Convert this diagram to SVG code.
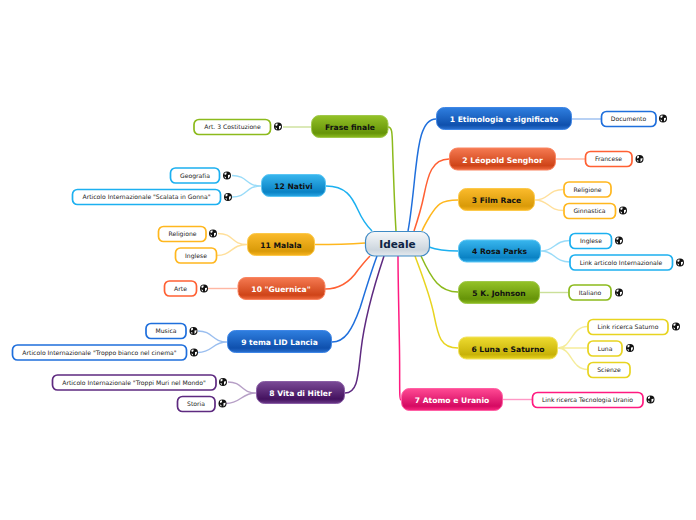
<svg xmlns="http://www.w3.org/2000/svg" xmlns:xlink="http://www.w3.org/1999/xlink" width="696" height="520" viewBox="0 0 696 520">
<style>
text{font-family:"DejaVu Sans",Verdana,sans-serif;text-anchor:middle}
.m{font-size:7.6px;font-weight:bold}
.w{fill:#fff}.k{fill:#111}
.l{font-size:6.1px;fill:#222}
.leaf{fill:#fff;stroke-width:1.7}
.c{fill:none;stroke-width:1.5}
.s{fill:none;stroke-width:1.4;opacity:.45}
.blue{stroke:#1f6fdc}.red{stroke:#ff6033}.amb{stroke:#ffb71e}.sky{stroke:#1cb0f0}.grn{stroke:#8cba1c}.yel{stroke:#e8d420}.pnk{stroke:#ff1a80}.pur{stroke:#5e2a80}
</style>
<defs>
<linearGradient id="gblue" x1="0" y1="0" x2="0" y2="1"><stop offset="0" stop-color="#2f7fe0"/><stop offset=".8" stop-color="#0f50ad"/><stop offset="1" stop-color="#2a70d0"/></linearGradient>
<linearGradient id="gred" x1="0" y1="0" x2="0" y2="1"><stop offset="0" stop-color="#f57a52"/><stop offset=".8" stop-color="#cf4418"/><stop offset="1" stop-color="#ef6a40"/></linearGradient>
<linearGradient id="gamb" x1="0" y1="0" x2="0" y2="1"><stop offset="0" stop-color="#fbbb2c"/><stop offset=".8" stop-color="#d99a08"/><stop offset="1" stop-color="#f8b420"/></linearGradient>
<linearGradient id="gsky" x1="0" y1="0" x2="0" y2="1"><stop offset="0" stop-color="#38b6ee"/><stop offset=".8" stop-color="#0a82c4"/><stop offset="1" stop-color="#2aa8e6"/></linearGradient>
<linearGradient id="ggrn" x1="0" y1="0" x2="0" y2="1"><stop offset="0" stop-color="#94c228"/><stop offset=".8" stop-color="#669408"/><stop offset="1" stop-color="#8cbc1e"/></linearGradient>
<linearGradient id="gyel" x1="0" y1="0" x2="0" y2="1"><stop offset="0" stop-color="#eedb30"/><stop offset=".8" stop-color="#c8b208"/><stop offset="1" stop-color="#e8d420"/></linearGradient>
<linearGradient id="gpnk" x1="0" y1="0" x2="0" y2="1"><stop offset="0" stop-color="#ff4a94"/><stop offset=".8" stop-color="#d50a62"/><stop offset="1" stop-color="#f8267e"/></linearGradient>
<linearGradient id="gpur" x1="0" y1="0" x2="0" y2="1"><stop offset="0" stop-color="#7a4a96"/><stop offset=".8" stop-color="#44125f"/><stop offset="1" stop-color="#6a3a88"/></linearGradient>
<linearGradient id="gcen" x1="0" y1="0" x2="0" y2="1"><stop offset="0" stop-color="#f6f8fa"/><stop offset=".75" stop-color="#cdd6de"/><stop offset="1" stop-color="#e6ebef"/></linearGradient>
<g id="globe"><circle r="4" fill="#111"/><path d="M-2.600-2.400-.6-3.200-.4-1.400-2.200-.2ZM1-.6 3.200-.8 2.600 1.600 1 3ZM-2.800 1-1 1.600-1.400 3.200Z" fill="#fff"/></g>
</defs>

<g id="connectors">
<path class="c grn" d="M388 127C393 127 392 135 393 160C394 190 395 215 396 231"/>
<path class="c blue" d="M436 119C420 119 418 150 415 175C413 195 411 215 408 231"/>
<path class="c red" d="M449 159C432 159 428 175 424 195C421 210 417 222 414 231"/>
<path class="c amb" d="M458 200C440 200 437 205 430 216C427 221 424 226 422 231"/>
<path class="c sky" d="M458 251C445 251 437 250 429 247"/>
<path class="c grn" d="M458 292C440 292 432 280 421 256"/>
<path class="c yel" d="M458 348C440 348 438 335 434 315C430 295 422 275 415 256"/>
<path class="c pnk" d="M401 400C399 400 400 385 399.500 350C399 315 398 280 398 256"/>
<path class="c pur" d="M345 393C358 393 358 375 361 350C365 315 376 280 384 256"/>
<path class="c blue" d="M332 342C345 342 352 330 360 308C365 292 371 272 377 256"/>
<path class="c red" d="M325 289C340 289 350 282 358 270C362 265 366 260 370 256"/>
<path class="c amb" d="M315 244.500C335 244.500 350 244 365 243"/>
<path class="c sky" d="M326 186C346 186 352 197 358 210C362 219 367 226 372 231"/>
<path class="s blue" d="M572 119H601"/>
<path class="s red" d="M556 159H585"/>
<path class="s amb" d="M535 200C549 200 548 189.500 563.500 189.500M535 200C549 200 548 210.500 563.500 210.500"/>
<path class="s sky" d="M541 251C555 251 554 240.500 570 240.500M541 251C555 251 554 262 570 262"/>
<path class="s grn" d="M540 292.500H568.500"/>
<path class="s yel" d="M558 348C572 348 571 326.500 587.500 326.500M558 348H587.500M558 348C572 348 571 369.500 587.500 369.500"/>
<path class="s pnk" d="M503 399.500H532"/>
<path class="s grn" d="M283 127H311"/>
<path class="s sky" d="M232 175.500C248 175.500 245 186 261 186M232 197C248 197 245 186 261 186"/>
<path class="s amb" d="M218 233.500C234 233.500 231 244.500 247 244.500M216.500 255.500C232 255.500 231 244.500 247 244.500"/>
<path class="s red" d="M208 288.500H237"/>
<path class="s blue" d="M198 331C213 331 212 342 227 342M198 352.500C213 352.500 212 342 227 342"/>
<path class="s pur" d="M228 382C243 382 241 393 256 393M226 403.500C241 403.500 241 393 256 393"/>
</g>

<g id="center"><rect x="365.500" y="231.500" width="64" height="24.500" rx="9" fill="url(#gcen)" stroke="#3f8ac4" stroke-width="1.200"/><text x="397.500" y="247.500" font-size="10.500" font-weight="bold" fill="#0f2545">Ideale</text></g>

<g id="n1"><rect x="436.500" y="107.500" width="135" height="22" rx="8" fill="url(#gblue)" stroke="#3f86e6"/><text class="m w" x="504" y="122">1 Etimologia e significato</text></g>
<g id="n2"><rect x="449.500" y="148" width="106" height="22" rx="8" fill="url(#gred)" stroke="#fa8460"/><text class="m w" x="502.500" y="162.500">2 Léopold Senghor</text></g>
<g id="n3"><rect x="458.500" y="188.500" width="76" height="22" rx="8" fill="url(#gamb)" stroke="#fcc94a"/><text class="m k" x="496.500" y="203">3 Film Race</text></g>
<g id="n4"><rect x="458.500" y="240" width="82" height="22" rx="8" fill="url(#gsky)" stroke="#5cc6f4"/><text class="m k" x="499.500" y="254">4 Rosa Parks</text></g>
<g id="n5"><rect x="458.500" y="281.500" width="81" height="22" rx="8" fill="url(#ggrn)" stroke="#a0c84a"/><text class="m k" x="499" y="295.500">5 K. Johnson</text></g>
<g id="n6"><rect x="458.500" y="337" width="99" height="22" rx="8" fill="url(#gyel)" stroke="#f2e260"/><text class="m k" x="508" y="351.500">6 Luna e Saturno</text></g>
<g id="n7"><rect x="401.500" y="388.500" width="101" height="22" rx="8" fill="url(#gpnk)" stroke="#ff60a4"/><text class="m w" x="452" y="403">7 Atomo e Uranio</text></g>
<g id="n0"><rect x="311.500" y="115.500" width="76.500" height="22" rx="8" fill="url(#ggrn)" stroke="#a0c84a"/><text class="m k" x="350" y="130">Frase finale</text></g>
<g id="n12"><rect x="261.500" y="174.500" width="64" height="22" rx="8" fill="url(#gsky)" stroke="#5cc6f4"/><text class="m k" x="293.500" y="189">12 Nativi</text></g>
<g id="n11"><rect x="247.500" y="233.500" width="67" height="22" rx="8" fill="url(#gamb)" stroke="#fcc94a"/><text class="m k" x="281" y="247.500">11 Malala</text></g>
<g id="n10"><rect x="238" y="277.500" width="87" height="22" rx="8" fill="url(#gred)" stroke="#fa8460"/><text class="m w" x="281" y="292">10 "Guernica"</text></g>
<g id="n9"><rect x="227.500" y="330.500" width="104" height="22" rx="8" fill="url(#gblue)" stroke="#3f86e6"/><text class="m w" x="279.500" y="344.500">9 tema LID Lancia</text></g>
<g id="n8"><rect x="256.500" y="381.500" width="88" height="22" rx="8" fill="url(#gpur)" stroke="#8a5ea6"/><text class="m w" x="300.500" y="396">8 Vita di Hitler</text></g>

<g id="l1"><rect class="leaf blue" x="601.500" y="111.500" width="54.500" height="15" rx="5"/><text class="l" x="628.500" y="121">Documento</text><use href="#globe" x="663" y="118.500"/></g>
<g id="l2"><rect class="leaf red" x="585.500" y="151.500" width="46.500" height="15" rx="5"/><text class="l" x="608.500" y="161">Francese</text><use href="#globe" x="639.500" y="159"/></g>
<g id="l3a"><rect class="leaf amb" x="564" y="182" width="47" height="15" rx="5"/><text class="l" x="587.500" y="192">Religione</text></g>
<g id="l3b"><rect class="leaf amb" x="564" y="203.500" width="51.500" height="15" rx="5"/><text class="l" x="589.500" y="213">Ginnastica</text><use href="#globe" x="623" y="210.500"/></g>
<g id="l4a"><rect class="leaf sky" x="570" y="233.500" width="41.500" height="15" rx="5"/><text class="l" x="591" y="243">Inglese</text><use href="#globe" x="619" y="240.500"/></g>
<g id="l4b"><rect class="leaf sky" x="570" y="255" width="102.500" height="15" rx="5"/><text class="l" x="621" y="264.500">Link articolo Internazionale</text><use href="#globe" x="680" y="262.500"/></g>
<g id="l5"><rect class="leaf grn" x="569" y="285" width="42" height="15" rx="5"/><text class="l" x="590" y="295">Italiano</text><use href="#globe" x="619" y="292.500"/></g>
<g id="l6a"><rect class="leaf yel" x="588" y="319.500" width="80" height="15" rx="5"/><text class="l" x="628" y="329">Link ricerca Saturno</text><use href="#globe" x="676" y="326.500"/></g>
<g id="l6b"><rect class="leaf yel" x="588" y="341" width="34" height="15" rx="5"/><text class="l" x="605" y="350.500">Luna</text><use href="#globe" x="630" y="348"/></g>
<g id="l6c"><rect class="leaf yel" x="588" y="362.500" width="42" height="15" rx="5"/><text class="l" x="609" y="372">Scienze</text></g>
<g id="l7"><rect class="leaf pnk" x="532.500" y="392.500" width="110.500" height="15" rx="5"/><text class="l" x="587.500" y="402">Link ricerca Tecnologia Uranio</text><use href="#globe" x="650.500" y="399.500"/></g>
<g id="l0"><rect class="leaf grn" x="194" y="119.500" width="76.500" height="15" rx="5"/><text class="l" x="232.500" y="129">Art. 3 Costituzione</text><use href="#globe" x="278" y="126.500"/></g>
<g id="l12a"><rect class="leaf sky" x="170.500" y="168" width="49" height="15" rx="5"/><text class="l" x="195" y="177.500">Geografia</text><use href="#globe" x="227" y="175.500"/></g>
<g id="l12b"><rect class="leaf sky" x="72.500" y="189.500" width="148" height="15" rx="5"/><text class="l" x="146.500" y="199">Articolo Internazionale "Scalata in Gonna"</text><use href="#globe" x="228" y="197"/></g>
<g id="l11a"><rect class="leaf amb" x="158.500" y="226.500" width="47.500" height="15" rx="5"/><text class="l" x="182.500" y="236">Religione</text><use href="#globe" x="213" y="233.500"/></g>
<g id="l11b"><rect class="leaf amb" x="175.500" y="248" width="41" height="15" rx="5"/><text class="l" x="196" y="257.500">Inglese</text></g>
<g id="l10"><rect class="leaf red" x="164.500" y="281" width="32" height="15" rx="5"/><text class="l" x="180.500" y="290.500">Arte</text><use href="#globe" x="204" y="288.500"/></g>
<g id="l9a"><rect class="leaf blue" x="146" y="323.500" width="40" height="15" rx="5"/><text class="l" x="166" y="333">Musica</text><use href="#globe" x="193.500" y="331"/></g>
<g id="l9b"><rect class="leaf blue" x="12.500" y="345" width="174" height="15" rx="5"/><text class="l" x="99.500" y="354.500">Articolo Internazionale "Troppo bianco nel cinema"</text><use href="#globe" x="194" y="352.500"/></g>
<g id="l8a"><rect class="leaf pur" x="52.500" y="375" width="163.500" height="15" rx="5"/><text class="l" x="134" y="384.500">Articolo Internazionale "Troppi Muri nel Mondo"</text><use href="#globe" x="223" y="382"/></g>
<g id="l8b"><rect class="leaf pur" x="177.500" y="396.500" width="37.500" height="15" rx="5"/><text class="l" x="196" y="406">Storia</text><use href="#globe" x="222.500" y="403.500"/></g>
</svg>
